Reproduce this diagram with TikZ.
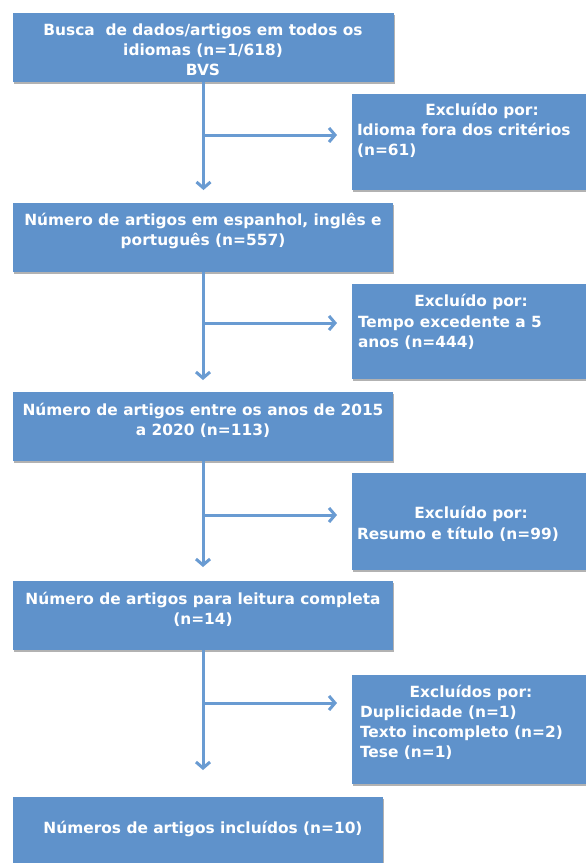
\documentclass[tikz,border=0pt]{standalone}
\usepackage{fontspec}
\setmainfont{DejaVu Sans}
\usetikzlibrary{arrows.meta,shadows}
\definecolor{boxblue}{RGB}{95,146,203}
\definecolor{arrblue}{RGB}{105,155,210}
\newcommand\fl{\rule{0pt}{15pt}}
\begin{document}
\begin{tikzpicture}[x=1pt,y=-1pt,
  box/.style={fill=boxblue, draw=none, inner sep=0pt, outer sep=0pt, anchor=north west,
    drop shadow={shadow xshift=1pt, shadow yshift=-2pt, opacity=0.3, fill=black}},
  txt/.style={text=white, font=\bfseries\fontsize{15.4}{20}\selectfont, inner sep=0pt, outer sep=0pt},
  arr/.style={draw=arrblue, line width=3pt, -{Straight Barb[length=6pt,width=14pt]}}]
\useasboundingbox (0,0) rectangle (586,863);
\fill[white] (0,0) rectangle (586,863);

% main boxes
\node[box, minimum width=381pt, minimum height=69pt] (b1) at (13,13) {};
\node[box, minimum width=380pt, minimum height=69pt] (b2) at (13,203) {};
\node[box, minimum width=380pt, minimum height=69pt] (b3) at (13,392) {};
\node[box, minimum width=380pt, minimum height=69pt] (b4) at (13,581) {};
\node[box, minimum width=370pt, minimum height=66pt] (b5) at (13,797) {};

% excluded boxes
\node[box, minimum width=234pt, minimum height=96pt] (e1) at (352,94) {};
\node[box, minimum width=234pt, minimum height=95pt] (e2) at (352,284) {};
\node[box, minimum width=234pt, minimum height=97pt] (e3) at (352,473) {};
\node[box, minimum width=234pt, minimum height=109pt] (e4) at (352,675) {};

% main texts
\node[txt, anchor=north, align=center] (t1) at (203,20) {\fl Busca~ de dados/artigos em todos os\\idiomas (n=1/618)\\BVS};
\node[txt, anchor=north, align=center] (t2) at (203,210) {\fl Número de artigos em espanhol, inglês e\\português (n=557)};
\node[txt, anchor=north, align=center] (t3) at (203,400) {\fl Número de artigos entre os anos de 2015\\a 2020 (n=113)};
\node[txt, anchor=north, align=center] (t4) at (203,589) {\fl Número de artigos para leitura completa\\(n=14)};
\node[txt, anchor=base] (t5) at (203,833) {Números de artigos incluídos (n=10)};

% excluded texts
\node[txt, anchor=base] (et1) at (482,115) {Excluído por:};
\node[txt, anchor=north west, align=left] (eb1) at (357,120) {\fl Idioma fora dos critérios\\(n=61)};
\node[txt, anchor=base] (et2) at (471,306) {Excluído por:};
\node[txt, anchor=north west, align=left] (eb2) at (358,312) {\fl Tempo excedente a 5\\anos (n=444)};
\node[txt, anchor=base] (et3) at (471,518) {Excluído por:};
\node[txt, anchor=north west, align=left] (eb3) at (357,524) {\fl Resumo e título (n=99)};
\node[txt, anchor=base] (et4) at (471,697) {Excluídos por:};
\node[txt, anchor=north west, align=left] (eb4) at (360,702) {\fl Duplicidade (n=1)\\Texto incompleto (n=2)\\Tese (n=1)};

% junctions
\coordinate (j1) at (203.5,135);
\coordinate (j2) at (203.5,323);
\coordinate (j3) at (203.5,515);
\coordinate (j4) at (203.5,703);

% connectors
\draw[arr, shorten >=13pt] (b1.south) -- (b1.south |- b2.north);
\draw[arr, shorten >=12pt] (b2.south) -- (b2.south |- b3.north);
\draw[arr, shorten >=14pt] (b3.south) -- (b3.south |- b4.north);
\draw[arr, shorten >=27pt] (b4.south) -- (b4.south |- b5.north);
\draw[arr, shorten >=15pt] (j1) -- (j1 -| e1.west);
\draw[arr, shorten >=15pt] (j2) -- (j2 -| e2.west);
\draw[arr, shorten >=15pt] (j3) -- (j3 -| e3.west);
\draw[arr, shorten >=15pt] (j4) -- (j4 -| e4.west);
\end{tikzpicture}
\end{document}
